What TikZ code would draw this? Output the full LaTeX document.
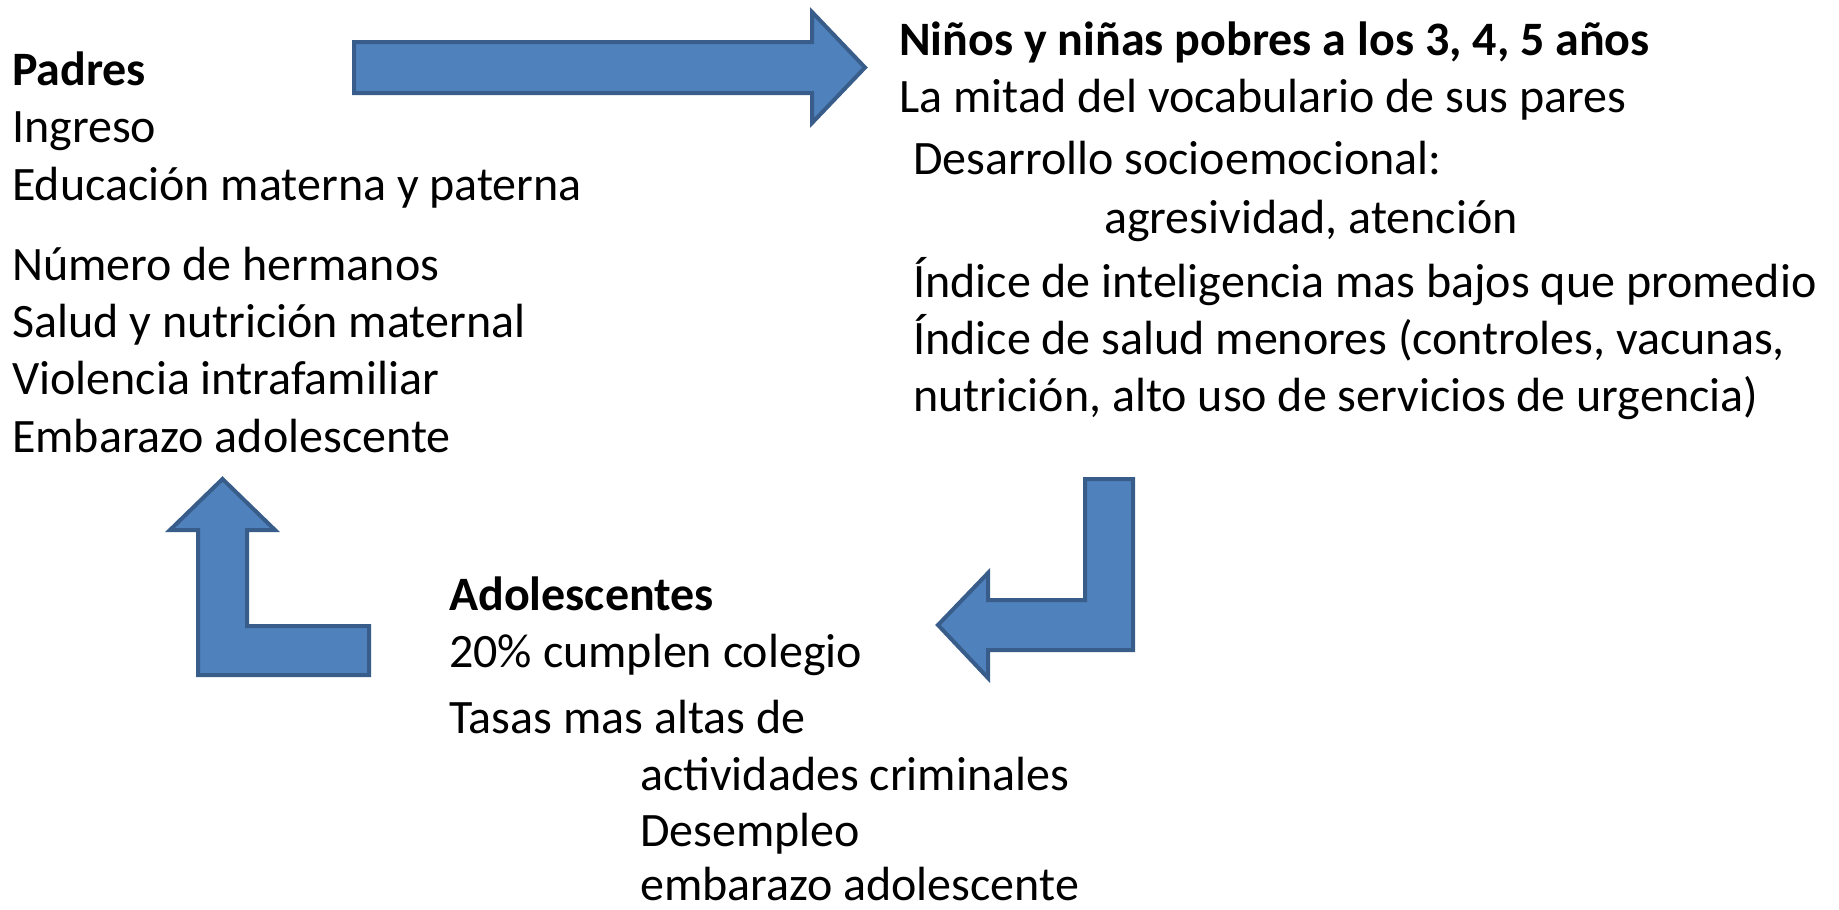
\documentclass[tikz,border=0pt]{standalone}
\usepackage{fontspec}
\setmainfont{Carlito}
\definecolor{arrowfill}{HTML}{4F81BD}
\definecolor{arrowline}{HTML}{385D8A}
\begin{document}
\begin{tikzpicture}[x=1pt,y=-1pt,
  txt/.style={anchor=base west,inner sep=0pt,font=\fontsize{48}{58}\selectfont},
  hd/.style={txt,font=\fontsize{48}{58}\selectfont\bfseries},
  blockarrow/.style={fill=arrowfill,draw=arrowline,line width=4pt,line join=miter}]
\useasboundingbox (0,0) rectangle (1839,910);
% left column
\node[hd]  (p0) at (12,85)  {Padres};
\node[txt] (p1) at (12,142) {Ingreso};
\node[txt] (p2) at (12,200) {Educación materna y paterna};
\node[txt] (p3) at (12,280) {Número de hermanos};
\node[txt] (p4) at (12,337) {Salud y nutrición maternal};
\node[txt] (p5) at (12,394) {Violencia intrafamiliar};
\node[txt] (p6) at (12,452) {Embarazo adolescente};
% right column
\node[hd]  (n0) at (899,55)   {Niños y niñas pobres a los 3, 4, 5 años};
\node[txt] (n1) at (899,112)  {La mitad del vocabulario de sus pares};
\node[txt] (n2) at (913,174)  {Desarrollo socioemocional:};
\node[txt] (n3) at (1104,233) {agresividad, atención};
\node[txt] (n4) at (913,297)  {Índice de inteligencia mas bajos que promedio};
\node[txt] (n5) at (913,354)  {Índice de salud menores (controles, vacunas,};
\node[txt] (n6) at (913,411)  {nutrición, alto uso de servicios de urgencia)};
% bottom column
\node[hd]  (a0) at (449,610) {Adolescentes};
\node[txt] (a1) at (449,667) {20\% cumplen colegio};
\node[txt] (a2) at (449,733) {Tasas mas altas de};
\node[txt] (a3) at (640,790) {actividades criminales};
\node[txt] (a4) at (640,846) {Desempleo};
\node[txt] (a5) at (640,900) {embarazo adolescente};
% block arrows
\draw[blockarrow] (354,42) -- (812,42) -- (812,12) -- (865,67.5) -- (812,123) -- (812,93) -- (354,93) -- cycle;
\draw[blockarrow] (1085,479) -- (1133,479) -- (1133,650) -- (988,650) -- (988,678) -- (938,625) -- (988,573) -- (988,600) -- (1085,600) -- cycle;
\draw[blockarrow] (222.5,479) -- (275,530) -- (247,530) -- (247,626) -- (369,626) -- (369,675) -- (198,675) -- (198,530) -- (170,530) -- cycle;
\end{tikzpicture}
\end{document}
